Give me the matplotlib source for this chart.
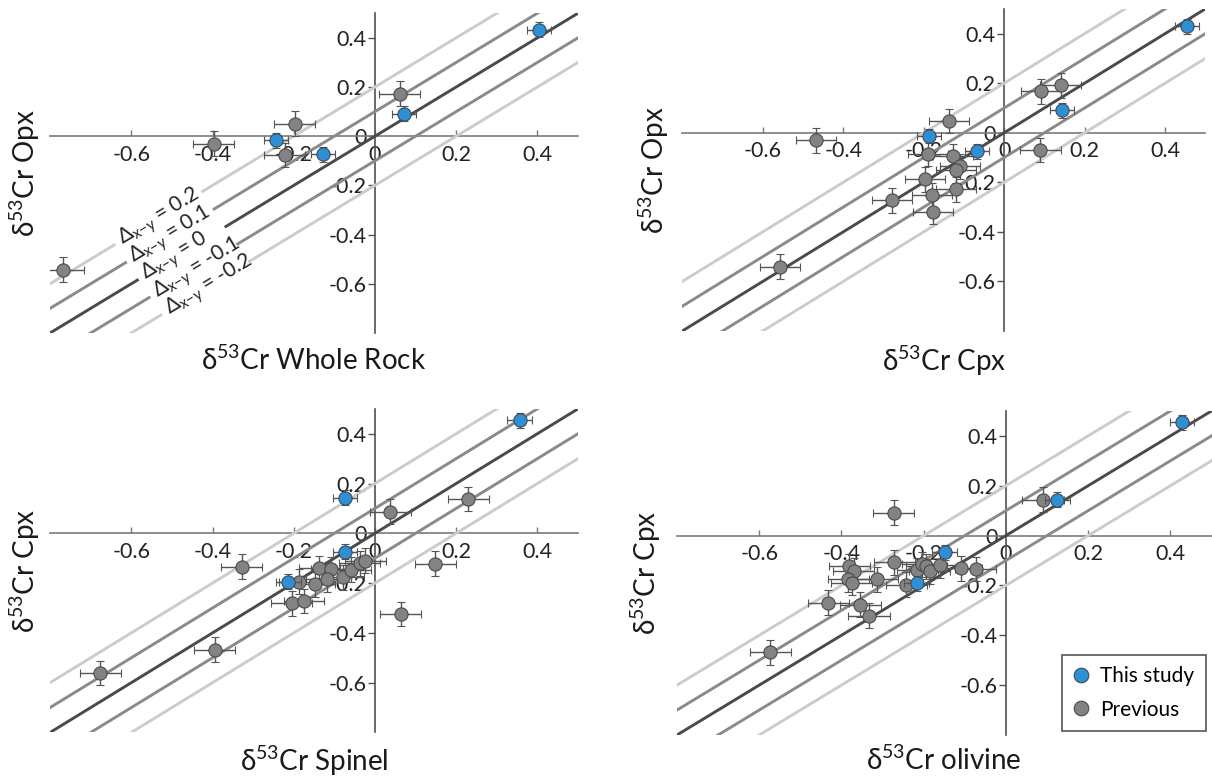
import matplotlib
matplotlib.use("Agg")
import matplotlib.pyplot as plt
from matplotlib.lines import Line2D

plt.rcParams['font.family'] = ['Lato', 'DejaVu Sans']
plt.rcParams['mathtext.default'] = 'regular'

# d53Cr whole rock (x) vs opx (y)
wr_study = [0.404, 0.071, -0.244, -0.128]
opx_wr_study = [0.433, 0.092, -0.016, -0.073]
wr_prev = [0.061, -0.198, -0.397, -0.222, -0.767]
opx_wr_prev = [0.173, 0.051, -0.030, -0.077, -0.542]

# cpx (x) vs opx (y)
cpx_study = [0.455, 0.143, -0.187, -0.068]
opx_cpx_study = [0.430, 0.091, -0.013, -0.074]
cpx_prev = [0.140, 0.092, -0.138, -0.467, 0.090, -0.190, -0.128, -0.109,
            -0.119, -0.197, -0.120, -0.180, -0.278, -0.177, -0.557]
opx_cpx_prev = [0.191, 0.168, 0.047, -0.030, -0.070, -0.085, -0.094, -0.135,
                -0.151, -0.188, -0.229, -0.253, -0.273, -0.320, -0.541]

# spinel (x) vs cpx (y)
spl_study = [0.356, -0.074, -0.074, -0.213]
cpx_spl_study = [0.455, 0.143, -0.074, -0.194]
spl_prev = [0.230, 0.038, -0.328, 0.149, 0.063, -0.187, -0.137, -0.107, -0.148,
            -0.119, -0.078, -0.059, -0.038, -0.024, -0.205, -0.175, -0.395, -0.676]
cpx_spl_prev = [0.138, 0.087, -0.134, -0.123, -0.324, -0.194, -0.141, -0.145, -0.205,
                -0.185, -0.177, -0.147, -0.120, -0.110, -0.281, -0.272, -0.468, -0.561]

# olivine (x) vs cpx (y)
ol_study = [0.428, 0.125, -0.149, -0.217]
cpx_ol_study = [0.455, 0.143, -0.067, -0.191]
ol_prev = [0.090, -0.273, -0.381, -0.370, -0.384, -0.375, -0.313, -0.272, -0.432, -0.354,
           -0.333, -0.242, -0.216, -0.204, -0.194, -0.185, -0.161, -0.109, -0.073, -0.573]
cpx_ol_prev = [0.143, 0.092, -0.124, -0.141, -0.175, -0.189, -0.175, -0.108, -0.269, -0.278,
               -0.321, -0.198, -0.138, -0.115, -0.124, -0.144, -0.120, -0.131, -0.134, -0.469]

study_err = 0.03
prev_err = 0.05

# offsets of the reference lines y = x + delta
deltas = [0.2, 0.1, 0, -0.1, -0.2]
delta_colors = ['#cccccc', '#8a8a8a', '#4a4a4a', '#8a8a8a', '#cccccc']
delta_label_x = [-0.627, -0.599, -0.570, -0.541, -0.512]

blue = '#2e90d3'
grey = '#838383'

ticks_x = [-0.6, -0.4, -0.2, 0, 0.2, 0.4]
ticks_y = [0.4, 0.2, 0, -0.2, -0.4, -0.6]

panels = [
    dict(rect=[0.0413, 0.572, 0.4356, 0.411], xs=wr_study, ys=opx_wr_study,
         xp=wr_prev, yp=opx_wr_prev, xlabel='δ$^{53}$Cr Whole Rock', ylabel='δ$^{53}$Cr Opx',
         xl_y=-0.085, yl_x=-0.047, deltas=True),
    dict(rect=[0.563, 0.5746, 0.4315, 0.414], xs=cpx_study, ys=opx_cpx_study,
         xp=cpx_prev, yp=opx_cpx_prev, xlabel='δ$^{53}$Cr Cpx', ylabel='δ$^{53}$Cr Opx',
         xl_y=-0.093, yl_x=-0.054),
    dict(rect=[0.0413, 0.0585, 0.4356, 0.416], xs=spl_study, ys=cpx_spl_study,
         xp=spl_prev, yp=cpx_spl_prev, xlabel='δ$^{53}$Cr Spinel', ylabel='δ$^{53}$Cr Cpx',
         xl_y=-0.088, yl_x=-0.047),
    dict(rect=[0.5586, 0.0553, 0.441, 0.4165], xs=ol_study, ys=cpx_ol_study,
         xp=ol_prev, yp=cpx_ol_prev, xlabel='δ$^{53}$Cr olivine', ylabel='δ$^{53}$Cr Cpx',
         xl_y=-0.080, yl_x=-0.058, legend=True),
]

fig = plt.figure(figsize=(12.12, 7.78), dpi=100)

for p in panels:
    ax = fig.add_axes(p['rect'])
    ax.set_xlim(-0.8, 0.5)
    ax.set_ylim(-0.8, 0.5)
    ax.set_axisbelow(True)

    for d, c, x0 in zip(deltas, delta_colors, delta_label_x):
        if p.get('deltas'):
            # leave a gap in the line where its label sits
            a, b = x0 - 0.012, x0 + 0.20
            for xa, xb in [(-1, a), (b, 1)]:
                ax.plot([xa, xb], [xa + d, xb + d], color=c, lw=2.1, zorder=2,
                        solid_capstyle='butt')
            ax.text(x0, x0 + d, 'Δ$_{x{-}y}$ = %g' % d, fontsize=15,
                    rotation=45, transform_rotates_text=True,
                    rotation_mode='anchor', ha='left', va='center',
                    color='#222222', zorder=3)
        else:
            ax.plot([-1, 1], [-1 + d, 1 + d], color=c, lw=2.1, zorder=2,
                    solid_capstyle='butt')

    ax.errorbar(p['xp'], p['yp'], xerr=prev_err, yerr=prev_err, fmt='o',
                ms=9.5, mfc=grey, mec='#4a4a4a', mew=0.8, ecolor='#555555',
                elinewidth=1, capsize=2.8, capthick=1, zorder=4)
    ax.errorbar(p['xs'], p['ys'], xerr=study_err, yerr=study_err, fmt='o',
                ms=9.5, mfc=blue, mec='#3a4a5a', mew=0.8, ecolor='#555555',
                elinewidth=1, capsize=2.8, capthick=1, zorder=5)

    for side in ['top', 'right']:
        ax.spines[side].set_visible(False)
    ax.spines['left'].set_position(('data', 0))
    ax.spines['bottom'].set_position(('data', 0))
    ax.spines['left'].set_color('#505050')
    ax.spines['bottom'].set_color('#7a7a7a')
    ax.spines['left'].set_linewidth(1.2)
    ax.spines['bottom'].set_linewidth(1.2)
    ax.spines['left'].set_zorder(1)
    ax.spines['bottom'].set_zorder(1)

    ax.set_xticks(ticks_x)
    ax.set_yticks(ticks_y)
    ax.set_xticklabels(['%g' % t for t in ticks_x])
    ax.set_yticklabels(['%g' % t for t in ticks_y])
    ax.tick_params(axis='x', direction='in', length=4, width=1, color='#7a7a7a',
                   labelsize=15.5, labelcolor='#222222', pad=6)
    ax.tick_params(axis='y', direction='out', length=5, width=1, color='#505050',
                   labelsize=15.5, labelcolor='#222222', pad=1)
    ax.patch.set_visible(False)

    ax.text(0.5, p['xl_y'], p['xlabel'], transform=ax.transAxes, ha='center',
            va='center', fontsize=20, color='#1a1a1a')
    ax.text(p['yl_x'], 0.5, p['ylabel'], transform=ax.transAxes, ha='center',
            va='center', rotation=90, fontsize=20, color='#1a1a1a')

    if p.get('legend'):
        handles = [
            Line2D([], [], ls='none', marker='o', ms=10.5, mfc=blue, mec='#3a4a5a', mew=0.8),
            Line2D([], [], ls='none', marker='o', ms=10.5, mfc=grey, mec='#4a4a4a', mew=0.8),
        ]
        leg = ax.legend(handles, ['This study', 'Previous'], loc='lower right',
                        bbox_to_anchor=(0.989, 0.012), borderaxespad=0,
                        fontsize=15, frameon=True, fancybox=False, framealpha=1,
                        edgecolor='#555555', handlelength=0.8, handletextpad=0.5,
                        labelspacing=0.65, borderpad=0.55)
        leg.get_frame().set_linewidth(1.2)

fig.savefig('out.png', dpi=100)
